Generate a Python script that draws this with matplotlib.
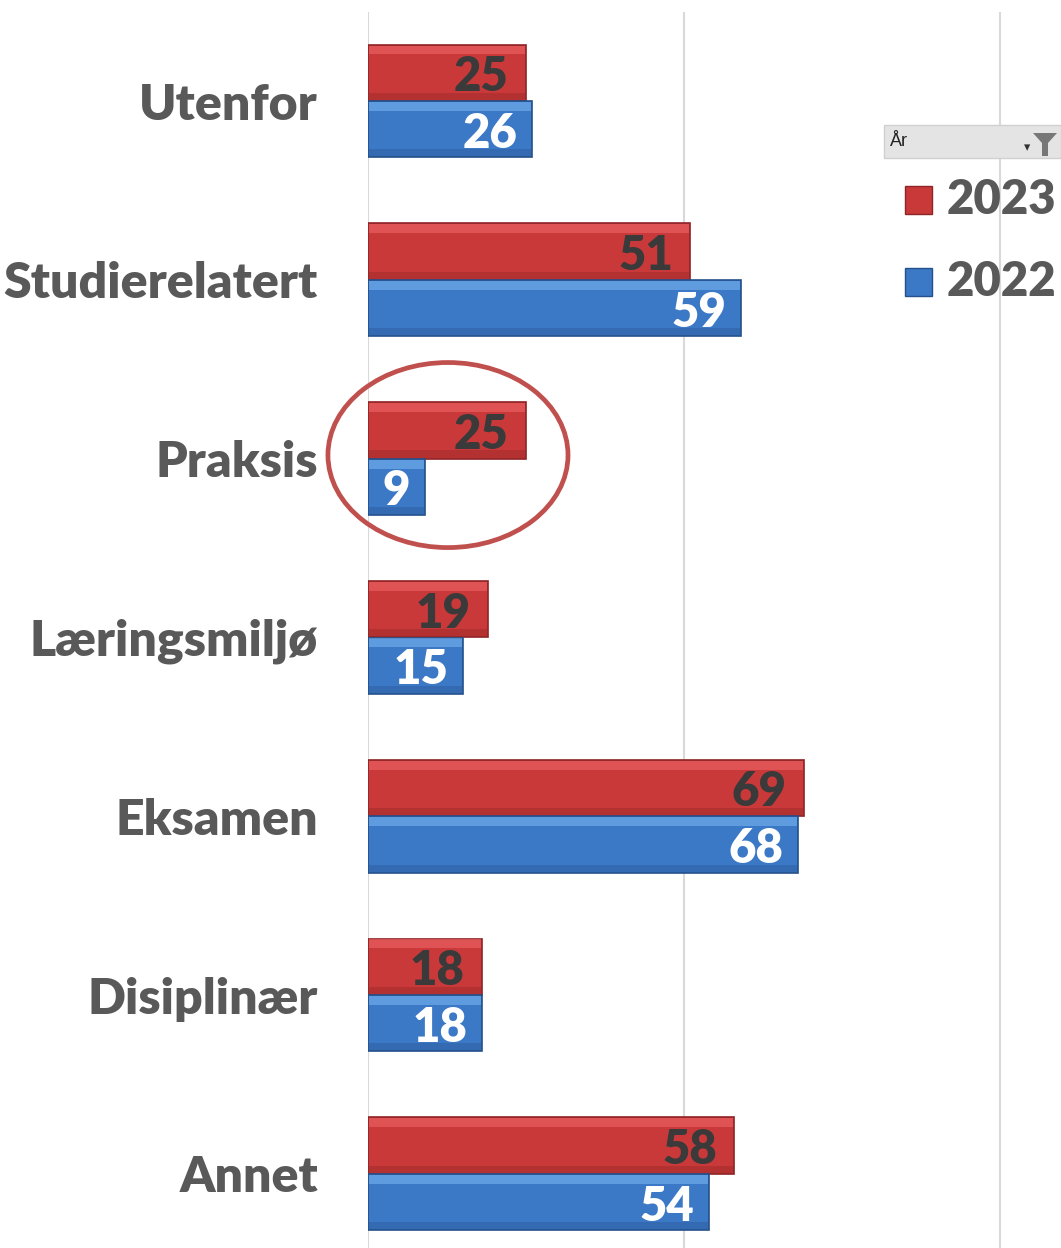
import matplotlib.pyplot as plt
import numpy as np
from matplotlib.patches import Ellipse, Rectangle, Polygon

# data
categories = ["Utenfor", "Studierelatert", "Praksis", "Læringsmiljø",
              "Eksamen", "Disiplinær", "Annet"]
values_2023 = [25, 51, 25, 19, 69, 18, 58]
values_2022 = [26, 59, 9, 15, 68, 18, 54]
years = ["2023", "2022"]

red = "#C9393A"
red_light = "#EE6666"
red_edge = "#8E2425"
blue = "#3B78C6"
blue_light = "#76B4F0"
blue_edge = "#25508A"
grey_text = "#595959"

plt.rcParams["font.family"] = ["Lato", "DejaVu Sans"]

fig = plt.figure(figsize=(10.61, 12.48), dpi=100)
ax = fig.add_axes([368 / 1061, 0, 1 - 368 / 1061, 1 - 12 / 1248])

y = np.arange(len(categories))
h = 0.315
off = 0.158

# bars
for vals, pos, face, light, edge in [(values_2023, y - off, red, red_light, red_edge),
                                     (values_2022, y + off, blue, blue_light, blue_edge)]:
    ax.barh(pos, vals, height=h, color=face, edgecolor=edge, linewidth=1.2, zorder=3)
    # bevel highlight on top edge
    ax.barh(pos - h / 2 + 0.03, np.array(vals) - 0.3, height=0.05, left=0.15,
            color=light, linewidth=0, zorder=4, alpha=0.6)
    # darker bottom strip
    ax.barh(pos + h / 2 - 0.025, np.array(vals) - 0.3, height=0.04, left=0.15,
            color=edge, linewidth=0, zorder=4, alpha=0.35)

# value labels
for i in y:
    ax.text(values_2023[i] - 2.7, i - off + 0.025, str(values_2023[i]), ha="right",
            va="center", fontsize=34, fontweight="heavy", color="#3A3A3A", zorder=5)
    ax.text(values_2022[i] - 2.3, i + off + 0.025, str(values_2022[i]), ha="right",
            va="center", fontsize=34, fontweight="heavy", color="white", zorder=5)

# axes styling
ax.set_xlim(0, 109.7)
ax.set_ylim(6.415, -0.498)
ax.set_xticks([0, 50, 100])
ax.xaxis.grid(True, color="#D9D9D9", linewidth=1.5, zorder=0)
ax.tick_params(axis="x", length=0, labelbottom=False)
ax.set_yticks(y)
ax.set_yticklabels(categories, fontsize=36, fontweight="heavy", color=grey_text)
ax.tick_params(axis="y", length=0, pad=36)
for s in ax.spines.values():
    s.set_visible(False)

# highlight ellipse around Praksis
ax.add_patch(Ellipse((12.66, 1.98), 38, 1.035, fill=False, edgecolor="#C0504D",
                     linewidth=3.4, zorder=6, clip_on=False))

# legend drawn by hand (pivot style)
ax.add_patch(Rectangle((884 / 1061, 1 - 158 / 1248), 177 / 1061, 33 / 1248,
                       transform=fig.transFigure, facecolor="#E4E4E4",
                       edgecolor="#D0D0D0", zorder=7, clip_on=False))
fig.text(890 / 1061, 1 - 141 / 1248, "År", fontsize=13, color="#222222",
         va="center", ha="left", zorder=8, family=["Liberation Sans", "DejaVu Sans"])
fig.text(1027 / 1061, 1 - 147 / 1248, "▾", fontsize=9, color="#333333",
         va="center", ha="center", zorder=8)
funnel = np.array([[1033, 133], [1057, 133], [1048, 143], [1048, 156],
                   [1042, 156], [1042, 143]])
ax.add_patch(Polygon(np.column_stack([funnel[:, 0] / 1061, 1 - funnel[:, 1] / 1248]),
                     closed=True, transform=fig.transFigure, facecolor="#777777",
                     edgecolor="none", zorder=8, clip_on=False))

for k, (lab, face, edge) in enumerate(zip(years, [red, blue], [red_edge, blue_edge])):
    cy = 200 + k * 82
    ax.add_patch(Rectangle((905 / 1061, 1 - (cy + 14) / 1248), 27 / 1061, 28 / 1248,
                           transform=fig.transFigure, facecolor=face, edgecolor=edge,
                           linewidth=1, zorder=8, clip_on=False))
    fig.text(947 / 1061, 1 - cy / 1248, lab, fontsize=34, fontweight="heavy",
             color=grey_text, va="center", ha="left", zorder=8)

fig.savefig("out.png", dpi=100)
